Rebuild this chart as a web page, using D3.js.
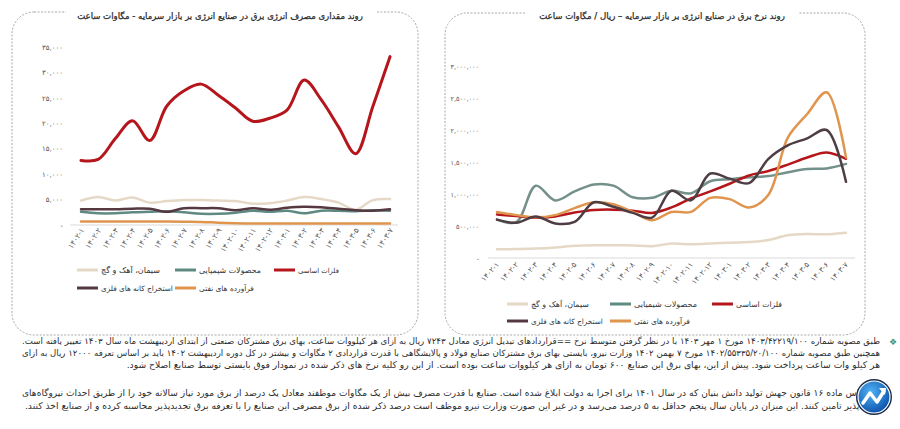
<!DOCTYPE html>
<html><head><meta charset="utf-8">
<script src="https://cdn.jsdelivr.net/npm/d3@7"></script>
<style>
html,body{margin:0;padding:0;background:#fff;}
body{position:relative;width:900px;height:429px;overflow:hidden;}
svg{display:block;position:absolute;left:0;top:0;}
.note{position:absolute;left:22px;width:858px;font-family:"DejaVu Sans",sans-serif;color:#2b2b2b;line-height:12px;white-space:nowrap;}
</style></head>
<body>
<svg id="c" width="900" height="429"></svg>
<script>
// ---------- DATA ----------
const months = ["1402-1","1402-2","1402-3","1402-4","1402-5","1402-6","1402-7","1402-8","1402-9","1402-10","1402-11","1402-12","1403-1","1403-2","1403-3","1403-4","1403-5","1403-6","1403-7"];
const seriesNames = ["فلزات اساسی","محصولات شیمیایی","سیمان، آهک و گچ","فرآورده های نفتی","استخراج کانه های فلزی"];
const seriesColors = ["#b5161b","#5f8a82","#e6d8c6","#e0954e","#553840"];

// consumption (MWh)
const consBasicMetals = [12700,12900,17000,20500,16600,23400,26400,27700,25500,23000,20400,21000,22600,28500,24600,19300,14000,23300,33100];
const consChemical    = [2600,2300,2300,2500,2600,2700,2500,2200,2200,2400,2800,2600,2800,2300,2800,2800,2700,2900,2800];
const consCement      = [4800,5500,4800,5400,4400,4700,4900,4900,4800,4700,4200,4300,4800,5500,5100,4400,3000,4900,5100];
const consOil         = [700,700,700,700,700,700,650,600,450,350,300,300,300,300,300,300,300,300,300];
const consMining      = [3100,3100,3100,3200,3200,2600,3300,3300,3300,2900,3300,3000,3400,3600,3500,3200,2900,2800,3100];
const consTicks = [0,5000,10000,15000,20000,25000,30000,35000];

// price (rial / MWh)
const priceBasicMetals = [680000,655000,630000,650000,710000,750000,755000,740000,705000,790000,930000,1040000,1160000,1290000,1360000,1460000,1570000,1650000,1550000];
const priceChemical    = [600000,560000,1130000,900000,1040000,1150000,1130000,950000,940000,1050000,1010000,1200000,1230000,1260000,1280000,1340000,1390000,1400000,1470000];
const priceCement      = [135000,140000,148000,165000,190000,200000,200000,195000,185000,225000,215000,225000,240000,250000,280000,355000,375000,370000,395000];
const priceOil         = [720000,670000,635000,670000,780000,870000,840000,720000,590000,720000,720000,940000,920000,790000,990000,1880000,2250000,2590000,1570000];
const priceMining      = [600000,550000,650000,540000,565000,870000,800000,705000,630000,1050000,900000,1320000,1240000,1170000,1550000,1760000,1870000,2000000,1190000];
const priceTicks = [0,500000,1000000,1500000,2000000,2500000,3000000];

const title1 = "روند مقداری مصرف انرژی برق در صنایع انرژی بر بازار سرمایه  - مگاوات ساعت";
const title2 = "روند نرخ برق در صنایع انرژی بر بازار سرمایه – ریال / مگاوات ساعت";

const para1 = [
 "طبق مصوبه شماره ۱۴۰۳/۴۲۲۱۹/۱۰۰ مورخ ۱ مهر ۱۴۰۳ با در نظر گرفتن  متوسط نرخ ==قراردادهای تبدیل انرژی معادل ۷۲۴۳ ریال به ازای هر کیلووات ساعت، بهای برق مشترکان صنعتی از ابتدای اردیبهشت ماه سال ۱۴۰۳ تغییر یافته است.",
 "همچنین  طبق مصوبه شماره ۱۴۰۲/۵۵۳۳۵/۲۰/۱۰۰ مورخ ۷ بهمن ۱۴۰۲ وزارت نیرو، بایستی بهای برق مشترکان صنایع فولاد و پالایشگاهی با قدرت قراردادی ۲ مگاوات و بیشتر در کل دوره اردیبهشت ۱۴۰۲ باید بر اساس تعرفه ۱۲۰۰۰ ریال به ازای",
 "هر کیلو وات ساعت پرداخت شود. پیش از این، بهای برق این صنایع ۶۰۰ تومان به ازای هر کیلووات ساعت بوده است. از این رو کلیه  نرخ های ذکر شده در نمودار فوق بایستی توسط صنایع اصلاح شود."
];
const para2 = [
 "بر اساس ماده ۱۶ قانون جهش تولید دانش بنیان که در سال ۱۴۰۱ برای اجرا به دولت ابلاغ شده است. صنایع با قدرت مصرف بیش از یک مگاوات موظفند معادل یک درصد از برق مورد نیاز سالانه خود را از طریق احداث نیروگاه‌های",
 "تجدیدپذیر تامین کنند. این میزان در پایان سال پنجم حداقل به ۵ درصد می‌رسد و در غیر این صورت وزارت نیرو موظف است درصد ذکر شده از برق مصرفی این صنایع را با تعرفه برق تجدیدپذیر محاسبه کرده و از صنایع اخذ کنند."
];

// ---------- HELPERS ----------
const FA = "۰۱۲۳۴۵۶۷۸۹";
const toFa = s => String(s).replace(/\d/g, d => FA[+d]);
const fmtTick = v => v === 0 ? "-" : toFa(d3.format(",")(v));
const FONT = "DejaVu Sans, sans-serif";

const svg = d3.select("#c");

function fitWidth(sel, target) {
  const w = sel.node().getComputedTextLength();
  const fs = parseFloat(sel.attr("font-size"));
  sel.attr("font-size", fs * target / w);
}

function panel(cfg) {
  const g = svg.append("g");
  g.append("rect").attr("x", cfg.bx0).attr("y", cfg.by0)
    .attr("width", cfg.bx1 - cfg.bx0).attr("height", cfg.by1 - cfg.by0)
    .attr("rx", 22).attr("ry", 22)
    .attr("fill", "none").attr("stroke", "#a9a9a9").attr("stroke-width", 1)
    .attr("stroke-dasharray", "2,1.5");
  g.append("rect").attr("x", cfg.gap0).attr("y", cfg.by0 - 4)
    .attr("width", cfg.gap1 - cfg.gap0).attr("height", 8).attr("fill", "#fff");
  const t = g.append("text").attr("x", cfg.titleX).attr("y", cfg.titleY)
    .attr("text-anchor", "middle")
    .attr("font-family", FONT).attr("font-size", 11).attr("fill", "#2a2a2a")
    .attr("stroke", "#2a2a2a").attr("stroke-width", 0.25)
    .text(cfg.title);
  fitWidth(t, cfg.titleW);

  const x = d3.scalePoint().domain(months).range([cfg.px0, cfg.px1]);
  const y = d3.scaleLinear().domain([0, cfg.ymax]).range([cfg.y0, cfg.ytop]);

  g.append("line").attr("x1", cfg.zx0).attr("x2", cfg.zx1)
    .attr("y1", y(0)).attr("y2", y(0)).attr("stroke", "#d9d9d9").attr("stroke-width", 1);

  const ya = d3.axisLeft(y).tickValues(cfg.ticks).tickFormat(fmtTick).tickSize(0).tickPadding(0);
  const yg = g.append("g").attr("transform", `translate(${cfg.ylabX},0)`).call(ya);
  yg.select(".domain").remove();
  yg.selectAll("text").attr("font-family", FONT).attr("font-size", cfg.yfs).attr("fill", "#555");

  const xa = d3.axisBottom(x).tickSize(0).tickPadding(0).tickFormat(toFa);
  const xg = g.append("g").attr("transform", `translate(0,${y(0)})`).call(xa);
  xg.select(".domain").remove();
  xg.selectAll("text").attr("font-family", FONT).attr("font-size", 7.5).attr("fill", "#555")
    .attr("text-anchor", "end").attr("dy", 0).attr("y", 0)
    .attr("transform", `translate(${cfg.xlabDx},${cfg.xlabDy}) rotate(${cfg.xrot})`);

  const line = d3.line().x((d, i) => x(months[i])).y(d => y(d)).curve(d3.curveCatmullRom.alpha(0.5));
  cfg.series.forEach(s => {
    g.append("path").datum(s.values).attr("d", line)
      .attr("fill", "none").attr("stroke", s.color).attr("stroke-width", s.width)
      .attr("stroke-linecap", "round").attr("stroke-linejoin", "round");
  });

  cfg.legend.forEach(l => {
    g.append("line").attr("x1", l.sx).attr("x2", l.sx + 21).attr("y1", l.y).attr("y2", l.y)
      .attr("stroke", seriesColors[l.k]).attr("stroke-width", 3);
    const lt = g.append("text").attr("x", l.sx + 24).attr("y", l.y + 3)
      .attr("text-anchor", "start")
      .attr("font-family", FONT).attr("font-size", 8.6).attr("fill", "#333")
      .text(seriesNames[l.k]);
    fitWidth(lt, l.w);
  });
}

// ---------- LEFT PANEL ----------
panel({
  bx0: 12, by0: 12, bx1: 418, by1: 335, gap0: 66, gap1: 377,
  title: title1, titleX: 220, titleY: 19, titleW: 286,
  px0: 81, px1: 390, y0: 225, ytop: 47, ymax: 35000, ticks: consTicks,
  zx0: 70, zx1: 398, ylabX: 63, yfs: 7,
  xlabDx: 3, xlabDy: 5, xrot: -57,
  series: [
    {values: consCement, color: seriesColors[2], width: 2.5},
    {values: consOil, color: seriesColors[3], width: 2.5},
    {values: consChemical, color: seriesColors[1], width: 2.5},
    {values: consMining, color: seriesColors[4], width: 2.5},
    {values: consBasicMetals, color: seriesColors[0], width: 3}
  ],
  legend: [
    {k: 0, sx: 274, y: 270, w: 41}, {k: 1, sx: 175, y: 270, w: 62}, {k: 2, sx: 77, y: 270, w: 59},
    {k: 3, sx: 175, y: 288, w: 55}, {k: 4, sx: 77, y: 288, w: 72}
  ]
});

// ---------- RIGHT PANEL ----------
panel({
  bx0: 445, by0: 13, bx1: 865, by1: 335, gap0: 525, gap1: 798,
  title: title2, titleX: 662, titleY: 19, titleW: 246,
  px0: 497, px1: 846, y0: 258, ytop: 66, ymax: 3000000, ticks: priceTicks,
  zx0: 488, zx1: 855, ylabX: 479, yfs: 6.5,
  xlabDx: 2, xlabDy: 7, xrot: -48,
  series: [
    {values: priceCement, color: seriesColors[2], width: 2.5},
    {values: priceChemical, color: "#74908a", width: 2.5},
    {values: priceBasicMetals, color: seriesColors[0], width: 2.5},
    {values: priceOil, color: seriesColors[3], width: 2.5},
    {values: priceMining, color: "#4f3d44", width: 2.5}
  ],
  legend: [
    {k: 0, sx: 712, y: 304, w: 46}, {k: 1, sx: 610, y: 304, w: 63}, {k: 2, sx: 507, y: 304, w: 58},
    {k: 3, sx: 610, y: 321, w: 56}, {k: 4, sx: 507, y: 321, w: 72}
  ]
});

// ---------- NOTES (HTML, RTL) ----------
function para(lines, baselines) {
  lines.forEach((txt, i) => {
    const full = i < lines.length - 1;
    const d = d3.select("body").append("div").attr("class", "note").attr("dir", "rtl")
      .style("top", (baselines[i] - 10) + "px").style("font-size", "9.2px");
    const sp = d.append("span").text(txt);
    const w = sp.node().getBoundingClientRect().width;
    if (w > 856) d.style("font-size", (9.2 * 856 / w) + "px");
    d.style("white-space", "normal");
    if (full) d.style("text-align", "justify").style("text-align-last", "justify");
    else d.style("text-align", "right");
  });
}
para(para1, [345, 357, 369]);
para(para2, [397, 410]);

// bullet
svg.append("text").attr("x", 893).attr("y", 345).attr("text-anchor", "middle")
  .attr("font-family", FONT).attr("font-size", 9).attr("fill", "#3a9a8a").text("❖");

// logo (overlay above the notes)
const ov = d3.select("body").append("svg").attr("width", 900).attr("height", 429)
  .style("position", "absolute").style("left", 0).style("top", 0);
const defs = ov.append("defs");
const gr = defs.append("radialGradient").attr("id", "lg").attr("cx", "40%").attr("cy", "35%").attr("r", "70%");
gr.append("stop").attr("offset", "0%").attr("stop-color", "#4fb3f6");
gr.append("stop").attr("offset", "100%").attr("stop-color", "#0b4fa8");
const lg = ov.append("g").attr("transform", "translate(874,397)");
lg.append("circle").attr("r", 18).attr("fill", "#1a2a4a");
lg.append("circle").attr("r", 16).attr("fill", "url(#lg)").attr("stroke", "#fff").attr("stroke-width", 1.2);
lg.append("path").attr("d", "M-11,6 L-4,-4 L3,5 L10,-6")
  .attr("fill", "none").attr("stroke", "#fff").attr("stroke-width", 3.5).attr("stroke-linejoin", "round").attr("stroke-linecap", "round");
lg.append("path").attr("d", "M5,-9 L12,-9 L11,-2 Z").attr("fill", "#fff");
</script>
</body></html>
